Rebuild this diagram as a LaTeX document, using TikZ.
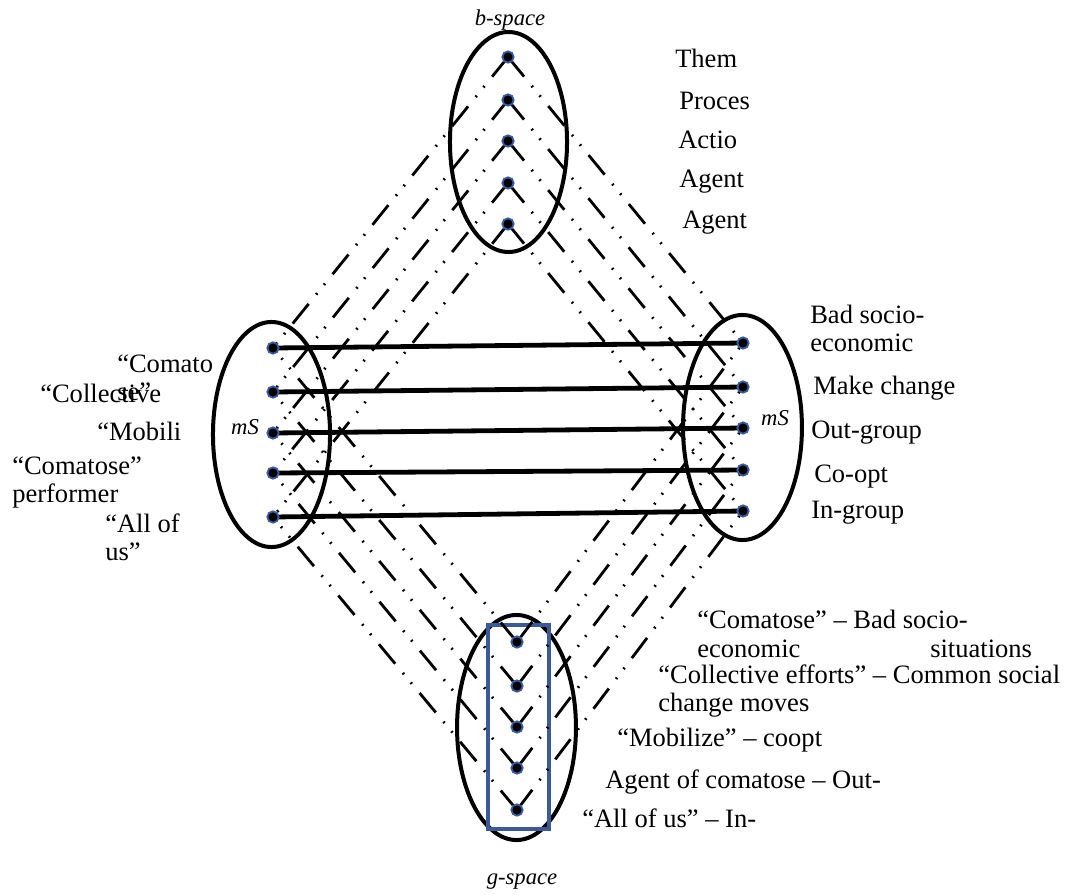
\documentclass[tikz,border=0pt]{standalone}
\usepackage{fontspec}
\setmainfont{Liberation Serif}
\definecolor{dotblue}{HTML}{3B5C9C}
\definecolor{boxblue}{HTML}{3A5A98}
\pgfdeclarelayer{bg}
\pgfsetlayers{bg,main}

\tikzset{
  pt/.style={circle,fill=black,draw=dotblue,line width=1.4pt,minimum size=8.5pt,inner sep=0pt},
  mapline/.style={line width=2.1pt,dash pattern=on 19pt off 9pt on 1.3pt off 8pt on 1.3pt off 9pt},
  crossline/.style={line width=3.6pt},
  space/.style={line width=3pt},
  lbl/.style={anchor=west,inner sep=0pt,align=left,font=\fontsize{19.9pt}{21pt}\selectfont},
  tag/.style={inner sep=0pt,font=\fontsize{17pt}{20pt}\selectfont\itshape}
}

\begin{document}
\begin{tikzpicture}[x=0.75pt,y=-0.75pt]

\useasboundingbox (0,0) rectangle (1065,894);

% === elements ===
% b-space
\node[pt] (t1) at (508,57) {};
\node[pt] (t2) at (508,100) {};
\node[pt] (t3) at (508,141) {};
\node[pt] (t4) at (508,183) {};
\node[pt] (t5) at (508,224) {};
% left mS
\node[pt] (l1) at (273,348) {};
\node[pt] (l2) at (273,392) {};
\node[pt] (l3) at (273,433) {};
\node[pt] (l4) at (273,473) {};
\node[pt] (l5) at (273,517) {};
% right mS
\node[pt] (r1) at (743,343) {};
\node[pt] (r2) at (743,387) {};
\node[pt] (r3) at (743,428) {};
\node[pt] (r4) at (743,470) {};
\node[pt] (r5) at (743,511) {};
% g-space
\node[pt] (g1) at (517,642) {};
\node[pt] (g2) at (517,686) {};
\node[pt] (g3) at (517,727) {};
\node[pt] (g4) at (517,768) {};
\node[pt] (g5) at (517,810) {};

\begin{pgfonlayer}{bg}
% === the four spaces ===
\draw[space] (508.5,142) ellipse [x radius=43.9pt,y radius=82.5pt];
\draw[space] (271.5,434.5) ellipse [x radius=43.9pt,y radius=84.4pt];
\draw[space] (742.5,427.5) ellipse [x radius=44.6pt,y radius=84.4pt];
\draw[space] (516.5,727.5) ellipse [x radius=44.6pt,y radius=84.4pt];

% blended space box
\draw[boxblue,line width=2.6pt] (488,625) rectangle (549,829);

% === projections ===
\draw[mapline] (t1.center) -- (l1.center);
\draw[mapline] (t2.center) -- (l2.center);
\draw[mapline] (t3.center) -- (l3.center);
\draw[mapline] (t4.center) -- (l4.center);
\draw[mapline] (t5.center) -- (l5.center);

\draw[mapline] (t1.center) -- (r1.center);
\draw[mapline] (t2.center) -- (r2.center);
\draw[mapline] (t3.center) -- (r3.center);
\draw[mapline] (t4.center) -- (r4.center);
\draw[mapline] (t5.center) -- (r5.center);

\draw[mapline] (g1.center) -- (l1.center);
\draw[mapline] (g2.center) -- (l2.center);
\draw[mapline] (g3.center) -- (l3.center);
\draw[mapline] (g4.center) -- (l4.center);
\draw[mapline] (g5.center) -- (l5.center);

\draw[mapline] (g1.center) -- (r1.center);
\draw[mapline] (g2.center) -- (r2.center);
\draw[mapline] (g3.center) -- (r3.center);
\draw[mapline] (g4.center) -- (r4.center);
\draw[mapline] (g5.center) -- (r5.center);

% cross-space mappings
\draw[crossline] (l1.center) -- (r1.center);
\draw[crossline] (l2.center) -- (r2.center);
\draw[crossline] (l3.center) -- (r3.center);
\draw[crossline] (l4.center) -- (r4.center);
\draw[crossline] (l5.center) -- (r5.center);
\end{pgfonlayer}

% === labels ===
\node[tag] (bsp) at (510,20) {b-space};
\node[tag] (gsp) at (522,882) {g-space};
\node[tag] (msl) at (245,427) {mS};
\node[tag] (msr) at (775,418) {mS};

\node[lbl] (bt1) at (675,58) {Them};
\node[lbl] (bt2) at (679,101) {Proces};
\node[lbl] (bt3) at (678,140) {Actio};
\node[lbl] (bt4) at (679,182) {Agent};
\node[lbl] (bt5) at (682,223) {Agent};

\node[lbl] (lt1) at (117,377.5) {“Comato\\se”};
\node[lbl] (lt2) at (40,393) {“Collective};
\node[lbl] (lt3) at (97,431) {“Mobili};
\node[lbl] (lt4) at (12,482) {“Comatose”\\performer};
\node[lbl] (lt5) at (105,537) {“All of\\us”};

\node[lbl] (rt1) at (810,328) {Bad socio-\\economic};
\node[lbl] (rt2) at (813,388) {Make change};
\node[lbl] (rt3) at (811,433) {Out-group};
\node[lbl] (rt4) at (814,477) {Co-opt};
\node[lbl] (rt5) at (811,513) {In-group};

\node[lbl] (gt1) at (697,619) {“Comatose” – Bad socio-};
\node[lbl] (gt1a) at (697,649) {economic};
\node[lbl] (gt1b) at (930,649) {situations};
\node[lbl] (gt2) at (658,691) {“Collective efforts” – Common social\\change moves};
\node[lbl] (gt3) at (617,740) {“Mobilize” – coopt};
\node[lbl] (gt4) at (605,782) {Agent of comatose – Out-};
\node[lbl] (gt5) at (582,818) {“All of us” – In-};

\end{tikzpicture}
\end{document}
